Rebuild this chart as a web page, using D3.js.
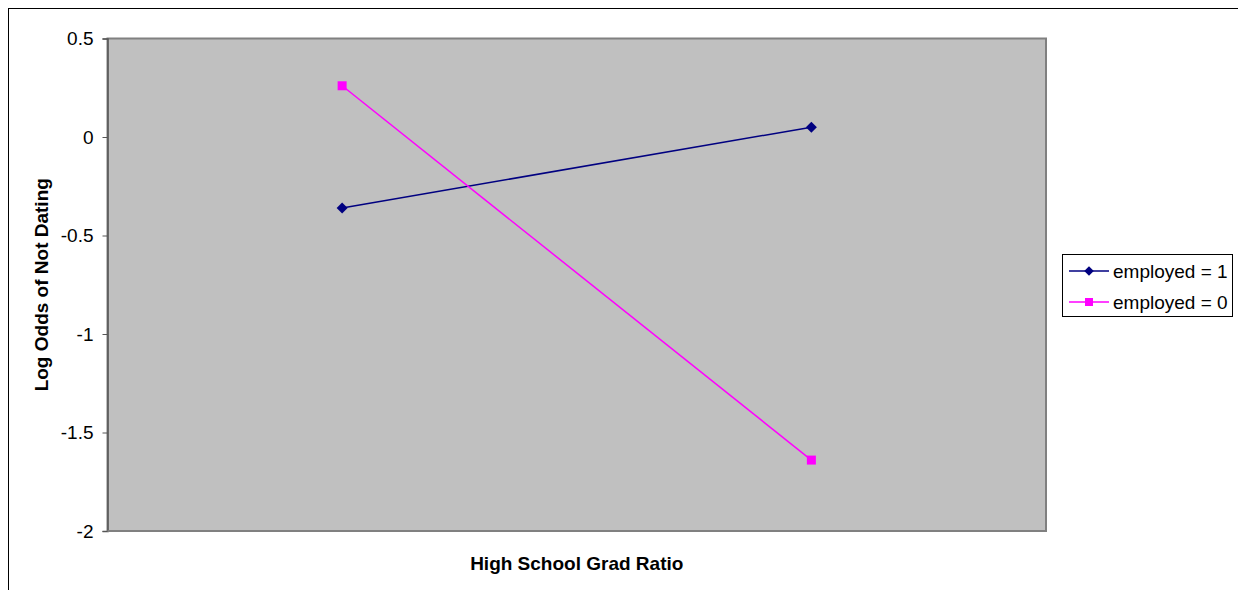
<!DOCTYPE html>
<html>
<head>
<meta charset="utf-8">
<script src="https://cdn.jsdelivr.net/npm/d3@7"></script>
<style>
  html, body { margin: 0; padding: 0; background: #fff; }
  svg { display: block; font-family: "Liberation Sans", Arial, sans-serif; }
</style>
</head>
<body>
<svg id="chart" width="1238" height="590"></svg>
<script>
// Two categories on the x axis (unlabelled groups of the grad ratio)
const categories = ["low", "high"];
const employed1 = [-0.36, 0.05];
const employed0 = [0.26, -1.64];
const yTicks = [0.5, 0, -0.5, -1, -1.5, -2];
const seriesNames = ["employed = 1", "employed = 0"];

const svg = d3.select("#chart");
const W = 1238, H = 590;
const plot = { left: 107.5, top: 38.5, right: 1046, bottom: 531 };
const FS = 19;

// outer chart frame (runs off the right and bottom edges)
svg.append("rect")
  .attr("x", 8.5).attr("y", 8.5)
  .attr("width", W).attr("height", H)
  .attr("fill", "none").attr("stroke", "#000").attr("stroke-width", 1);

const x = d3.scaleBand().domain(categories).range([plot.left, plot.right]);
const y = d3.scaleLinear().domain([-2, 0.5]).range([plot.bottom, plot.top]);

// plot area
svg.append("rect")
  .attr("x", plot.left).attr("y", plot.top)
  .attr("width", plot.right - plot.left).attr("height", plot.bottom - plot.top)
  .attr("fill", "#c0c0c0").attr("stroke", "#808080").attr("stroke-width", 2);

// y axis
const yAxis = d3.axisLeft(y).tickValues(yTicks).tickSize(5).tickPadding(9)
  .tickFormat(d => d === 0 ? "0" : String(d));
const gy = svg.append("g").attr("transform", `translate(${plot.left},0)`).call(yAxis);
gy.select(".domain").attr("stroke", "#555").attr("stroke-width", 1.5);
gy.selectAll(".tick line").attr("stroke", "#555");
gy.selectAll(".tick text").attr("font-size", FS).attr("fill", "#000")
  .attr("font-family", "Liberation Sans, Arial, sans-serif");

// x axis line without ticks or labels
svg.append("line")
  .attr("x1", plot.left).attr("x2", plot.right)
  .attr("y1", plot.bottom).attr("y2", plot.bottom)
  .attr("stroke", "#808080").attr("stroke-width", 2);

// axis titles
svg.append("text")
  .attr("x", (plot.left + plot.right) / 2).attr("y", 570)
  .attr("text-anchor", "middle").attr("font-size", FS).attr("font-weight", "bold")
  .text("High School Grad Ratio");

svg.append("text")
  .attr("transform", `translate(48,${(plot.top + plot.bottom) / 2}) rotate(-90)`)
  .attr("text-anchor", "middle").attr("font-size", FS).attr("font-weight", "bold")
  .text("Log Odds of Not Dating");

const cx = c => x(c) + x.bandwidth() / 2;
const line = d3.line().x((d, i) => cx(categories[i])).y(d => y(d));

// series employed = 1 (navy, diamonds)
svg.append("path").datum(employed1)
  .attr("d", line).attr("fill", "none").attr("stroke", "#000080").attr("stroke-width", 1.5);
svg.selectAll(".m1").data(employed1).enter().append("path")
  .attr("class", "m1")
  .attr("transform", (d, i) => `translate(${cx(categories[i])},${y(d)}) rotate(45)`)
  .attr("d", d3.symbol().type(d3.symbolSquare).size(60))
  .attr("fill", "#000080");

// series employed = 0 (magenta, squares)
svg.append("path").datum(employed0)
  .attr("d", line).attr("fill", "none").attr("stroke", "#ff00ff").attr("stroke-width", 1.5);
svg.selectAll(".m0").data(employed0).enter().append("rect")
  .attr("class", "m0")
  .attr("x", (d, i) => cx(categories[i]) - 4.5).attr("y", d => y(d) - 4.5)
  .attr("width", 9).attr("height", 9)
  .attr("fill", "#ff00ff");

// legend
const lg = svg.append("g");
lg.append("rect")
  .attr("x", 1062.5).attr("y", 254.5).attr("width", 170).attr("height", 62)
  .attr("fill", "#fff").attr("stroke", "#000").attr("stroke-width", 1);
const colors = ["#000080", "#ff00ff"];
seriesNames.forEach((name, i) => {
  const yy = 271 + i * 31;
  lg.append("line").attr("x1", 1069).attr("x2", 1109).attr("y1", yy).attr("y2", yy)
    .attr("stroke", colors[i]).attr("stroke-width", 1.5);
  if (i === 0) {
    lg.append("path").attr("transform", `translate(1089,${yy}) rotate(45)`)
      .attr("d", d3.symbol().type(d3.symbolSquare).size(45)).attr("fill", colors[i]);
  } else {
    lg.append("rect").attr("x", 1085).attr("y", yy - 4).attr("width", 8).attr("height", 8)
      .attr("fill", colors[i]);
  }
  lg.append("text").attr("x", 1113).attr("y", yy + 6.5).attr("font-size", FS).text(name);
});
</script>
</body>
</html>
